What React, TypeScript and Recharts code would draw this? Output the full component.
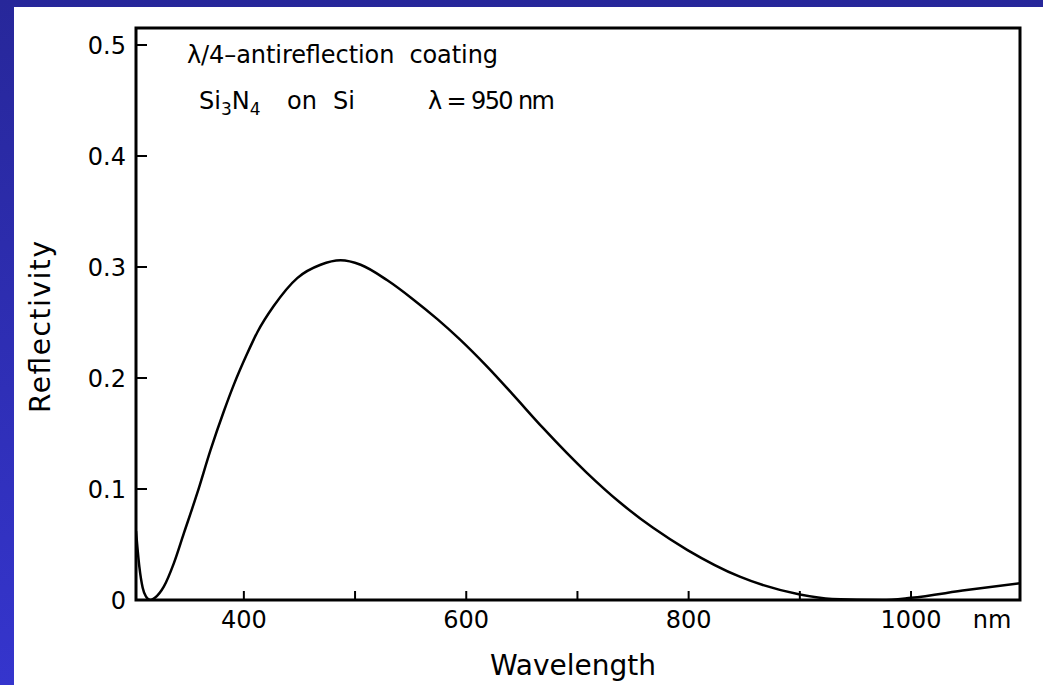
import React from "react";
import { LineChart, Line, XAxis, YAxis, ReferenceArea } from "recharts";

const wavelengths = [
  303, 306, 309, 312, 316, 320, 328, 337, 346, 358, 370, 382, 391, 403, 412, 427,
  448, 469, 487, 505, 529, 552, 574, 594, 619, 642, 669, 708, 738, 768, 799, 846,
  900, 929, 974, 1000, 1050, 1098,
];
const reflectivity = [
  0.062, 0.03, 0.011, 0.003, 0.0, 0.002, 0.012, 0.033, 0.06, 0.096, 0.135, 0.17, 0.194, 0.222, 0.241, 0.265,
  0.29, 0.302, 0.306, 0.302, 0.288, 0.271, 0.253, 0.235, 0.21, 0.185, 0.155, 0.115, 0.088, 0.065, 0.045, 0.021,
  0.005, 0.001, 0.0, 0.002, 0.009, 0.015,
];
const xTicks = [400, 500, 600, 700, 800, 900, 1000];
const xLabelTicks = [400, 600, 800, 1000];
const yTicks = [0, 0.1, 0.2, 0.3, 0.4, 0.5];
const xDomain = [303, 1098];
const yDomain = [0, 0.5153];

const data = wavelengths.map((w, i) => ({ w, r: reflectivity[i] }));

const FONT = "'DejaVu Sans', sans-serif";

const XTick = (props: any) => {
  const { x, y, payload } = props;
  const v = payload.value;
  return (
    <g>
      <line x1={x} x2={x} y1={y} y2={y - 9} stroke="#000" strokeWidth={2} />
      {xLabelTicks.includes(v) && (
        <text x={x} y={y + 28} textAnchor="middle" fontSize={24} fontFamily={FONT} fill="#000">
          {v}
        </text>
      )}
      {v === 1000 && (
        <text x={x + 81} y={y + 28} textAnchor="middle" fontSize={24} fontFamily={FONT} fill="#000">
          nm
        </text>
      )}
    </g>
  );
};

const YTick = (props: any) => {
  const { x, y, payload } = props;
  const v = payload.value;
  return (
    <g>
      <line x1={x} x2={x + 11} y1={y} y2={y} stroke="#000" strokeWidth={2} />
      <text x={x - 10} y={y} dy="0.36em" textAnchor="end" fontSize={24} fontFamily={FONT} fill="#000">
        {v === 0 ? "0" : v.toFixed(1)}
      </text>
    </g>
  );
};

export default function App() {
  return (
    <div
      style={{
        position: "absolute",
        left: 0,
        top: 0,
        width: 1043,
        height: 685,
        background: "linear-gradient(to bottom, #27279a, #3535cd)",
        overflow: "hidden",
      }}
    >
      <div
        style={{
          position: "absolute",
          left: 14,
          top: 7,
          width: 1029,
          height: 678,
          background: "#ffffff",
        }}
      >
        <LineChart width={1029} height={678} data={data} margin={{ top: 21, right: 23, left: 0, bottom: 0 }}>
          <XAxis
            dataKey="w"
            type="number"
            domain={xDomain}
            ticks={xTicks}
            allowDataOverflow
            height={85}
            axisLine={false}
            tickLine={false}
            tickSize={0}
            tickMargin={0}
            tick={<XTick />}
            interval={0}
          />
          <YAxis
            type="number"
            domain={yDomain}
            ticks={yTicks}
            allowDataOverflow
            width={122}
            axisLine={false}
            tickLine={false}
            tickSize={0}
            tickMargin={0}
            tick={<YTick />}
            interval={0}
          />
          <ReferenceArea
            x1={xDomain[0]}
            x2={xDomain[1]}
            y1={yDomain[0]}
            y2={yDomain[1]}
            fill="none"
            fillOpacity={0}
            stroke="#000"
            strokeWidth={3}
          />
          <Line
            type="monotone"
            dataKey="r"
            stroke="#000"
            strokeWidth={2.5}
            dot={false}
            isAnimationActive={false}
          />
        </LineChart>
        <svg
          width={1029}
          height={678}
          style={{ position: "absolute", left: 0, top: 0, pointerEvents: "none" }}
        >
          <g fontFamily={FONT} fill="#000" fontSize={24}>
            <text x={173} y={56} textLength={311} lengthAdjust="spacing" style={{ whiteSpace: "pre" }}>
              λ/4–antireflection  coating
            </text>
            <text x={185} y={102}>
              Si<tspan fontSize={17} dy={6}>3</tspan>
              <tspan dy={-6}>N</tspan>
              <tspan fontSize={17} dy={6}>4</tspan>
            </text>
            <text x={273} y={102}>on</text>
            <text x={319} y={102}>Si</text>
            <text x={414} y={102} textLength={127} lengthAdjust="spacing" style={{ whiteSpace: "pre" }}>
              λ = 950 nm
            </text>
            <text x={559} y={668} textAnchor="middle" fontSize={28}>
              Wavelength
            </text>
            <text
              x={0}
              y={0}
              textAnchor="middle"
              fontSize={28}
              textLength={172}
              lengthAdjust="spacing"
              transform="translate(36, 320) rotate(-90)"
            >
              Reflectivity
            </text>
          </g>
        </svg>
      </div>
    </div>
  );
}
